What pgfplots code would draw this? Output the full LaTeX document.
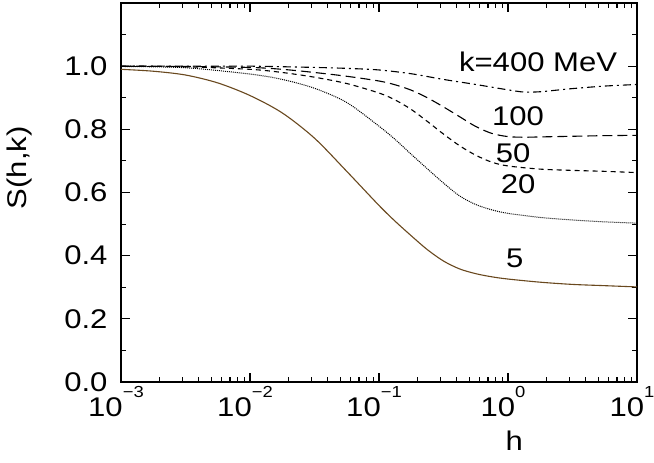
\documentclass[border=0pt]{standalone}
\usepackage{fontspec}
\setmainfont{Liberation Sans}[FakeStretch=1.15]
\usepackage{pgfplots}
\pgfplotsset{compat=1.18}
\definecolor{kbrown}{RGB}{105,72,30}

\newcommand{\lbl}{\fontsize{27bp}{30bp}\selectfont}
\newcommand{\ep}[1]{\raisebox{19bp}{\fontsize{16bp}{16bp}\selectfont #1}}

\begin{document}
\begin{tikzpicture}
\begin{axis}[
    scale only axis,
    width=516bp, height=379bp,
    xmode=log,
    xmin=1e-3, xmax=10,
    ymin=0, ymax=1.2,
    xtick={0.001,0.01,0.1,1,10},
    xticklabels={10\ep{−3},10\ep{−2},10\ep{−1},10\ep{0},10\ep{1}},
    minor xtick={0.002,0.003,0.004,0.005,0.006,0.007,0.008,0.009,
                 0.02,0.03,0.04,0.05,0.06,0.07,0.08,0.09,
                 0.2,0.3,0.4,0.5,0.6,0.7,0.8,0.9,
                 2,3,4,5,6,7,8,9},
    ytick={0,0.2,0.4,0.6,0.8,1.0},
    yticklabels={0.0,0.2,0.4,0.6,0.8,1.0},
    minor ytick={0.1,0.3,0.5,0.7,0.9,1.1},
    tick align=inside,
    major tick length=9bp,
    minor tick length=5bp,
    axis line style={line width=1.5bp},
    every tick/.style={black, line width=1.1bp},
    tick label style={font=\lbl},
    yticklabel style={xshift=-10bp},
    xticklabel style={xshift=-5bp, yshift=-1bp},
    xlabel={h},
    ylabel={S(h,k)},
    every axis x label/.style={at={(axis description cs:0.762,-0.155)}, anchor=center, font=\lbl},
    every axis y label/.style={at={(axis description cs:-0.196,0.565)}, rotate=90, anchor=center, font=\lbl},
]
% k = 400 MeV
\addplot[black, line width=1.1bp, smooth, dash pattern=on 8bp off 4bp on 2bp off 4bp] coordinates {
    (0.001,1.0) (0.003162,1.0) (0.01,1.0) (0.03162,0.996) (0.05623,0.993)
    (0.1,0.988) (0.1778,0.976) (0.3162,0.958) (0.5623,0.942) (1,0.925)
    (1.334,0.918) (1.778,0.919) (2.371,0.924) (3.162,0.929) (5.623,0.937) (10,0.942)
};
% k = 100
\addplot[black, line width=1.1bp, smooth, dash pattern=on 10bp off 5bp] coordinates {
    (0.001,1.0) (0.003162,0.999) (0.01,0.996) (0.01778,0.990) (0.03162,0.980)
    (0.05623,0.968) (0.1,0.953) (0.1334,0.941) (0.1778,0.924) (0.2371,0.900)
    (0.3162,0.871) (0.4217,0.840) (0.5623,0.809) (0.7499,0.787) (1,0.777)
    (1.334,0.775) (1.778,0.776) (3.162,0.778) (5.623,0.780) (10,0.781)
};
% k = 50
\addplot[black, line width=1.1bp, smooth, dash pattern=on 5bp off 4bp] coordinates {
    (0.001,1.0) (0.003162,0.998) (0.01,0.990) (0.01778,0.980) (0.03162,0.965)
    (0.05623,0.945) (0.1,0.915) (0.1334,0.893) (0.1778,0.863) (0.2371,0.825)
    (0.3162,0.785) (0.4217,0.748) (0.5623,0.718) (0.7499,0.696) (1,0.684)
    (1.778,0.674) (3.162,0.670) (5.623,0.667) (10,0.663)
};
% k = 20
\addplot[black, line width=1.0bp, smooth, dash pattern=on 1bp off 1bp] coordinates {
    (0.001,0.999) (0.003162,0.995) (0.01,0.975) (0.01778,0.958) (0.03162,0.930)
    (0.05623,0.885) (0.1,0.810) (0.1334,0.768) (0.1778,0.721) (0.2371,0.675)
    (0.3162,0.630) (0.4217,0.589) (0.5623,0.562) (0.7499,0.545) (1,0.534)
    (1.778,0.521) (3.162,0.513) (5.623,0.507) (10,0.503)
};
% k = 5
\addplot[kbrown, line width=1.1bp, smooth] coordinates {
    (0.001,0.990) (0.001778,0.984) (0.003162,0.972) (0.005623,0.947) (0.01,0.907)
    (0.01778,0.852) (0.03162,0.772) (0.05623,0.667) (0.1,0.559) (0.1334,0.509)
    (0.1778,0.463) (0.2371,0.419) (0.3162,0.383) (0.4217,0.358) (0.5623,0.343)
    (0.7499,0.333) (1,0.326) (1.778,0.316) (3.162,0.309) (5.623,0.305) (10,0.301)
};
\node[font=\lbl] at (axis cs:1.71,1.013) {k=400 MeV};
\node[font=\lbl] at (axis cs:1.197,0.842) {100};
\node[font=\lbl] at (axis cs:1.094,0.725) {50};
\node[font=\lbl] at (axis cs:1.197,0.627) {20};
\node[font=\lbl] at (axis cs:1.13,0.392) {5};
\end{axis}
\pgfresetboundingbox
\path[use as bounding box] (-121bp,-81bp) rectangle (533bp,382bp);
\end{tikzpicture}
\end{document}
